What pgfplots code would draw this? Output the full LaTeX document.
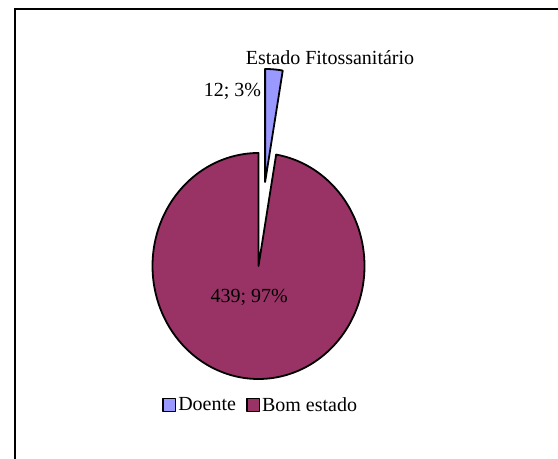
\documentclass[border=0pt]{standalone}
\usepackage{pgfplots}
\pgfplotsset{compat=1.18}
\usepackage{pgfplotstable}
\usepackage{fontspec}
\setmainfont{Liberation Serif}
\definecolor{doente}{HTML}{9999FF}
\definecolor{bom}{HTML}{993366}
\pgfplotstableread{
label value
Doente 12
Bom 439
}\piedata
\begin{document}%
\begin{tikzpicture}[font=\fontsize{20bp}{24bp}\selectfont]
\pgfplotstablegetelem{0}{value}\of\piedata \let\vA\pgfplotsretval
\pgfplotstablegetelem{1}{value}\of\piedata \let\vB\pgfplotsretval
\pgfmathsetmacro{\tot}{\vA+\vB}
\pgfmathsetmacro{\aA}{90-360*\vA/\tot}
\pgfmathsetmacro{\amid}{90-180*\vA/\tot}
\pgfmathsetmacro{\ex}{0.746*cos(\amid)}
\pgfmathsetmacro{\ey}{0.746*sin(\amid)}
\path[use as bounding box] (0,0) rectangle (558bp,459bp);
\draw[line width=2.2bp] (14.8bp,-2bp) -- (14.8bp,450bp) -- (562bp,450bp);
\begin{axis}[
  at={(258.5bp,193bp)}, anchor=origin,
  x=106bp, y=113bp,
  xmin=-2.44, xmax=2.83, ymin=-1.71, ymax=2.36,
  hide axis, clip=false,
  legend columns=2,
  legend style={at={(axis cs:0.02,-1.23)}, anchor=center, draw=none, fill=none,
    font=\fontsize{20bp}{24bp}\selectfont,
    /tikz/every even column/.append style={column sep=8bp}},
  legend image code/.code={\draw[#1,line width=1.6bp] (0bp,-6.5bp) rectangle (12.5bp,6.5bp);},
]
\addplot[fill=doente, draw=black, line width=1.8bp, line join=round, domain=\aA:90, samples=40, variable=\t]
  ({cos(\t)+\ex},{sin(\t)+\ey}) -- (axis cs:\ex,\ey) -- cycle;
\addplot[fill=bom, draw=black, line width=1.8bp, line join=round, domain=-270:\aA, samples=240, variable=\t]
  ({cos(\t)},{sin(\t)}) -- (axis cs:0,0) -- cycle;
\legend{Doente, Bom estado}
\node[anchor=base] at (axis cs:0.675,1.779) {Estado Fitossanitário};
\node[anchor=base] at (axis cs:-0.245,1.498) {12; 3\%};
\node[anchor=base] at (axis cs:-0.088,-0.323) {439; 97\%};
\end{axis}
\end{tikzpicture}%
\end{document}
